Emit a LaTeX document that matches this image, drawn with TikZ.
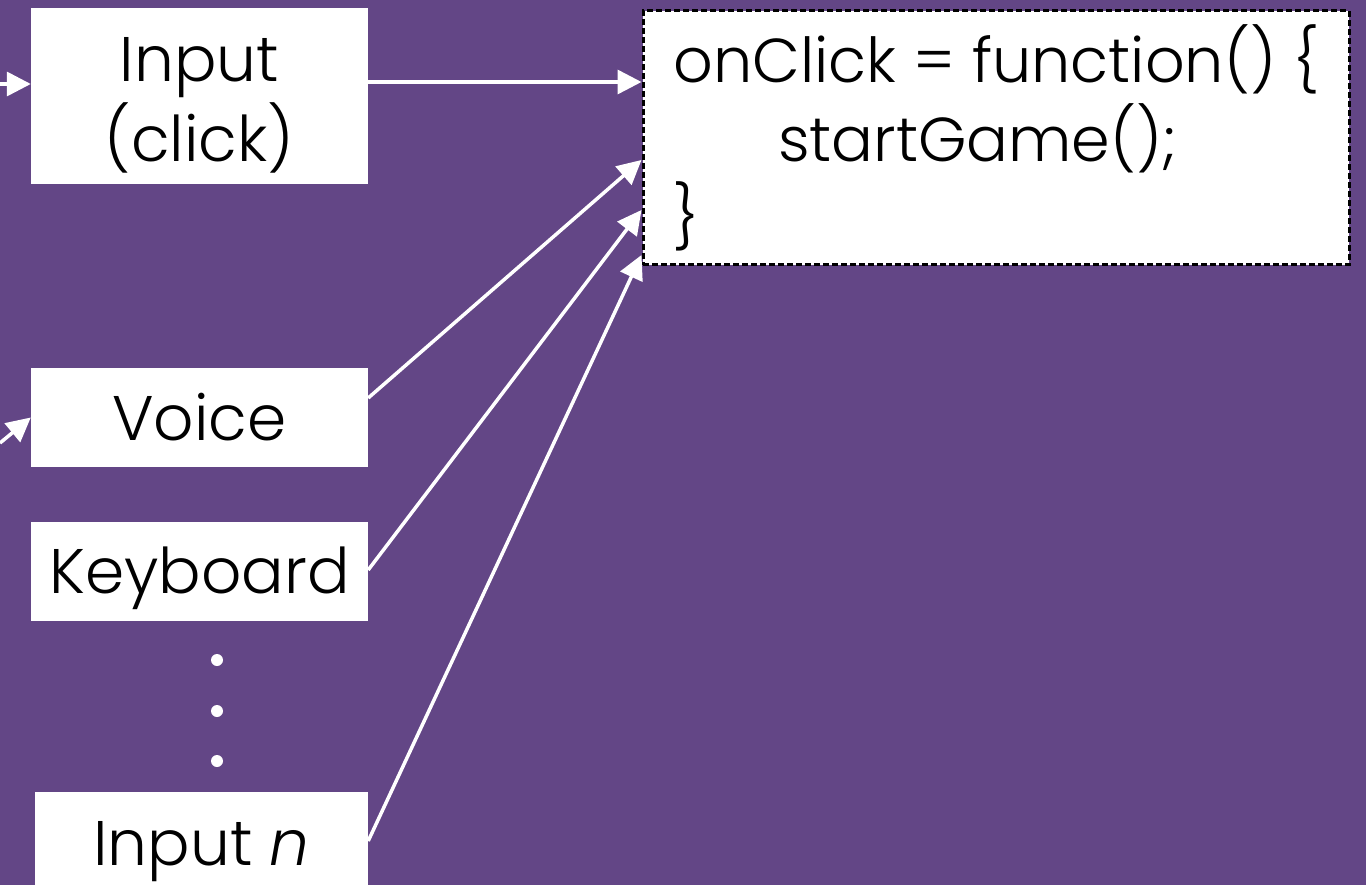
\documentclass[tikz,border=0pt]{standalone}
\usepackage{fontspec}
\setmainfont{Poppins}[UprightFont=* Light, ItalicFont=* Light Italic]
\usetikzlibrary{arrows.meta}
\definecolor{bgpurple}{HTML}{634686}
\tikzset{
  inbox/.style={fill=white, inner sep=0pt, font=\fontsize{63}{70}\selectfont},
  codebox/.style={fill=white, draw=black, line width=3pt, dash pattern=on 6pt off 3pt, inner sep=0pt},
  codetext/.style={anchor=base west, inner sep=0pt, font=\fontsize{62}{70}\selectfont},
  conn/.style={draw=white, line width=3.5pt, -{Triangle[length=24pt,width=24pt]}},
  dotmark/.style={circle, fill=white, inner sep=0pt, minimum size=12pt},
}
\begin{document}
\begin{tikzpicture}[x=1pt,y=-1pt]
\fill[bgpurple] (0,0) rectangle (1366,885);
\useasboundingbox (0,0) rectangle (1366,885);
\begin{scope}
\clip (0,0) rectangle (1366,885);
\node[inbox, minimum width=337pt, text height=74pt, text depth=102pt] (click) at (199.5,96) {\begin{tabular}[t]{@{}c@{}}Input\\(click)\end{tabular}};
\node[inbox, minimum width=337pt, text height=72pt, text depth=27pt] (voice) at (199.5,417.5) {Voice};
\node[inbox, minimum width=337pt, text height=71pt, text depth=28pt] (keyb) at (199.5,571.5) {Keyboard};
\node[inbox, minimum width=333pt, text height=73pt, text depth=25pt] (inn) at (201.5,841) {Input \textit{n}};
\node[codebox, minimum width=706pt, minimum height=254pt] (code) at (996,138) {};
\node[codetext] (l1) at (673,83) {onClick = function() \{};
\node[codetext] (l2) at (778,162) {startGame();};
\node[codetext] (l3) at (673,240) {\}};
\node[dotmark] (d1) at (217,660) {};
\node[dotmark] (d2) at (217,711) {};
\node[dotmark] (d3) at (217,761) {};
\coordinate (e1) at (0,84);
\coordinate (e2) at (0,443);
\draw[conn] (e1) -- ([yshift=12pt]click.west);
\draw[conn] (e2) -- (voice.west);
\draw[conn] ([yshift=14pt]click.east) -- ([yshift=56pt]code.west);
\draw[conn] ([yshift=19.5pt]voice.east) -- ([yshift=-22pt]code.west);
\draw[conn] ([yshift=1.5pt]keyb.east) -- ([yshift=-72pt]code.west);
\draw[conn] (inn.east) -- ([yshift=-117pt]code.west);
\end{scope}
\end{tikzpicture}
\end{document}
